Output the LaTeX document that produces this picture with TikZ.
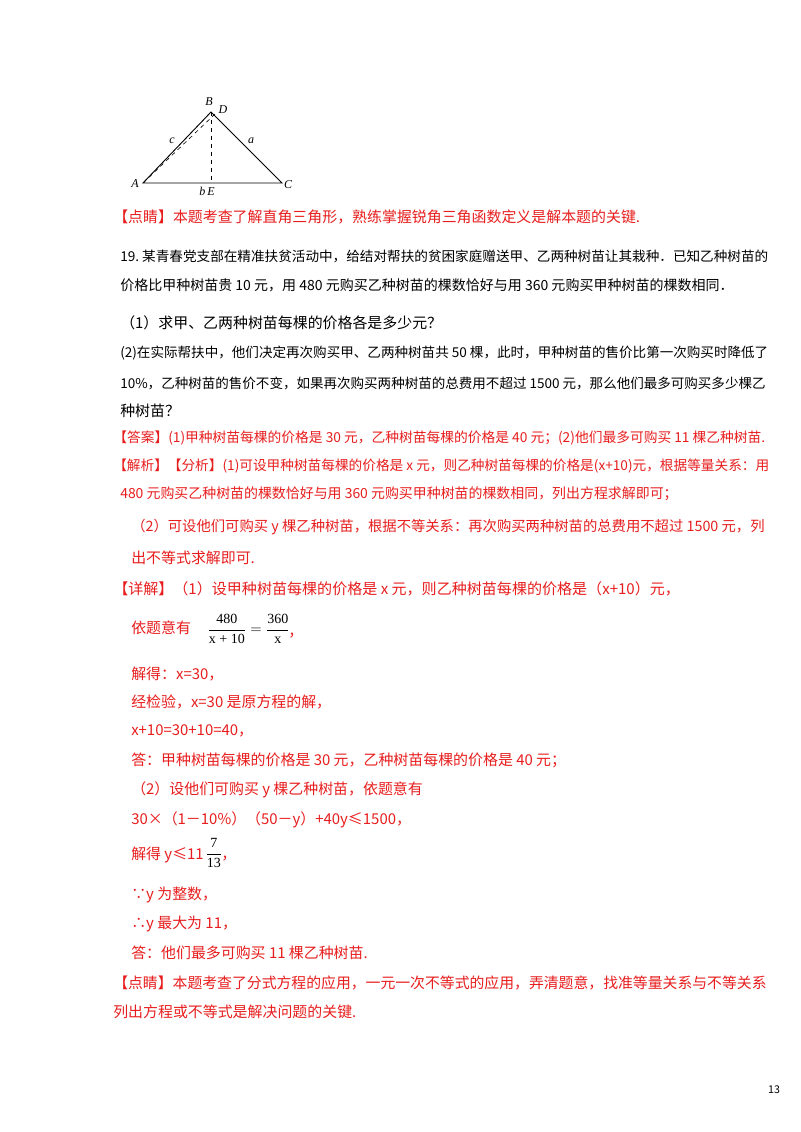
\documentclass[tikz,border=0pt]{standalone}
\usepackage{fontspec}
\usepackage{graphicx}
\setmainfont{Noto Sans CJK SC}
\newfontfamily\serif{Liberation Serif}
\definecolor{rd}{RGB}{232,30,30}
\newcommand\fitw[2]{\resizebox{#1}{!}{#2}}
\begin{document}
\begin{tikzpicture}[x=0.75pt,y=-0.75pt,
  tx/.style={anchor=west,inner sep=0pt,font=\fontsize{11.2}{13}\selectfont},
  rt/.style={tx,text=rd},
  lb/.style={inner sep=0pt,font=\serif\itshape\fontsize{9}{10}\selectfont}]
\useasboundingbox (0,0) rectangle (800,1132);
\fill[white] (0,0) rectangle (800,1132);
% triangle
\coordinate (A) at (143,183); \coordinate (P) at (211,112); \coordinate (C) at (282,183);
\coordinate (E) at (211,183); \coordinate (D) at (215,114);
\draw[line width=0.7pt] (A) -- (P) -- (C) -- cycle;
\draw[dashed,line width=0.5pt] (A) -- (D);
\draw[dashed,line width=0.5pt] (P) -- (E);
\node[lb] (lA) at (135,184) {A};
\node[lb] (lB) at (209,102) {B};
\node[lb] (lD) at (223,110) {D};
\node[lb] (lC) at (288,185) {C};
\node[lb] (lc) at (172,141) {c};
\node[lb] (la) at (251,141) {a};
\node[lb] (lbE) at (207,191) {b\,E};
\node[rt] (t1) at (113,217) {【点睛】本题考查了解直角三角形，熟练掌握锐角三角函数定义是解本题的关键.};
\node[tx] (t2) at (120,256) {\fitw{486pt}{19.\ 某青春党支部在精准扶贫活动中，给结对帮扶的贫困家庭赠送甲、乙两种树苗让其栽种．已知乙种树苗的}};
\node[tx] (t3) at (120,285) {\fitw{460pt}{价格比甲种树苗贵 10 元，用 480 元购买乙种树苗的棵数恰好与用 360 元购买甲种树苗的棵数相同．}};
\node[tx] (t4) at (120,323) {（1）求甲、乙两种树苗每棵的价格各是多少元？};
\node[tx] (t5) at (120,353) {\fitw{486pt}{(2)在实际帮扶中，他们决定再次购买甲、乙两种树苗共 50 棵，此时，甲种树苗的售价比第一次购买时降低了}};
\node[tx] (t6) at (120,383) {\fitw{484pt}{10\%，乙种树苗的售价不变，如果再次购买两种树苗的总费用不超过 1500 元，那么他们最多可购买多少棵乙}};
\node[tx] (t7) at (120,411) {种树苗？};
\node[rt] (t8) at (113,438) {\fitw{489pt}{【答案】(1)甲种树苗每棵的价格是 30 元，乙种树苗每棵的价格是 40 元；(2)他们最多可购买 11 棵乙种树苗.}};
\node[rt] (t9) at (113,466) {\fitw{492pt}{【解析】【分析】(1)可设甲种树苗每棵的价格是 x 元，则乙种树苗每棵的价格是(x+10)元，根据等量关系：用}};
\node[rt] (t10) at (120,494) {\fitw{418pt}{480 元购买乙种树苗的棵数恰好与用 360 元购买甲种树苗的棵数相同，列出方程求解即可；}};
\node[rt] (t11) at (131,527) {\fitw{475pt}{（2）可设他们可购买 y 棵乙种树苗，根据不等关系：再次购买两种树苗的总费用不超过 1500 元，列}};
\node[rt] (t12) at (131,558) {出不等式求解即可.};
\node[rt] (t13) at (113,589) {\fitw{425pt}{【详解】（1）设甲种树苗每棵的价格是 x 元，则乙种树苗每棵的价格是（x+10）元，}};
\node[rt] (t14) at (131,628) {依题意有};
\node[inner sep=0pt,anchor=west,font=\serif\fontsize{10.5}{12}\selectfont] (f1) at (207,629) {$\displaystyle\frac{\hbox{480}}{\hbox{x + 10}}=\frac{\hbox{360}}{\hbox{x}}$};
\node[rt] (f1c) at (288,636) {，};
\node[rt] (t15) at (131,674) {解得：x=30，};
\node[rt] (t16) at (131,702) {经检验，x=30 是原方程的解，};
\node[rt] (t17) at (131,731) {x+10=30+10=40，};
\node[rt] (t18) at (131,760) {答：甲种树苗每棵的价格是 30 元，乙种树苗每棵的价格是 40 元；};
\node[rt] (t19) at (131,790) {（2）设他们可购买 y 棵乙种树苗，依题意有};
\node[rt] (t20) at (131,820) {30×（1－10\%）（50－y）+40y≤1500，};
\node[rt] (t21) at (131,855) {解得 y≤11};
\node[inner sep=0pt,anchor=west,text=black,font=\serif\fontsize{10.5}{12}\selectfont] (f2) at (205,853) {$\displaystyle\frac{\hbox{7}}{\hbox{13}}$};
\node[rt] (f2c) at (221,859) {，};
\node[rt] (t22) at (131,895) {∵y 为整数，};
\node[rt] (t23) at (131,924) {∴y 最大为 11，};
\node[rt] (t24) at (131,953) {答：他们最多可购买 11 棵乙种树苗.};
\node[rt] (t25) at (113,983) {\fitw{490pt}{【点睛】本题考查了分式方程的应用，一元一次不等式的应用，弄清题意，找准等量关系与不等关系}};
\node[rt] (t26) at (113,1012) {列出方程或不等式是解决问题的关键.};
\node[inner sep=0pt,font=\fontsize{8}{9}\selectfont] (pg) at (774,1090) {13};
\end{tikzpicture}
\end{document}
